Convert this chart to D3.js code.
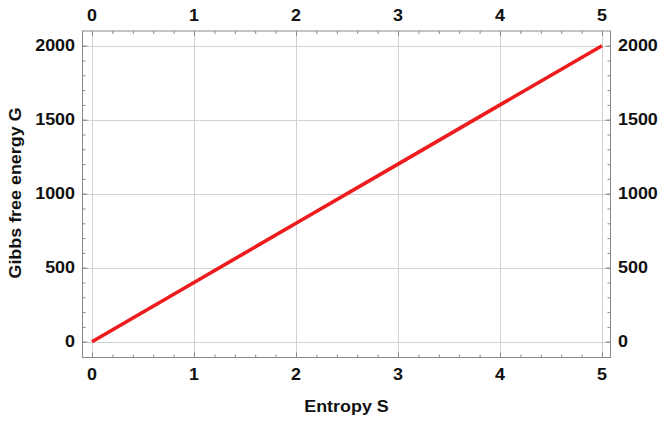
<!DOCTYPE html>
<html>
<head>
<meta charset="utf-8">
<script src="https://cdn.jsdelivr.net/npm/d3@7"></script>
<style>
  html, body { margin: 0; padding: 0; background: #fff; }
  svg { display: block; }
  text { font-family: "Liberation Sans", Arial, sans-serif; font-weight: bold; fill: #111; }
</style>
</head>
<body>
<div id="chart"></div>
<script>
// ---- data ----
const entropyS = [0, 1, 2, 3, 4, 5];
const gibbsG = [0, 400, 800, 1200, 1600, 2000];
const xTickValues = [0, 1, 2, 3, 4, 5];
const yTickValues = [0, 500, 1000, 1500, 2000];
const xLabel = "Entropy S";
const yLabel = "Gibbs free energy G";

const W = 658, H = 421;
const frame = { left: 82.5, right: 610.5, top: 31, bottom: 357.5 };

const x = d3.scaleLinear().domain([0, 5]).range([92, 602]);
const y = d3.scaleLinear().domain([0, 2000]).range([341.7, 45.7]);

const xMinor = d3.range(-1, 27).map(i => i * 0.2).filter(v => x(v) > frame.left + 1 && x(v) < frame.right - 1);
const yMinor = d3.range(-2, 23).map(i => i * 100).filter(v => y(v) > frame.top + 1 && y(v) < frame.bottom - 1);

const svg = d3.select("#chart").append("svg").attr("width", W).attr("height", H);

const FS = 16, SX = 1.12;
const frameColor = "#8a8a8a";

// gridlines
const grid = svg.append("g").attr("stroke", "#d2d2d2").attr("stroke-width", 1);
grid.selectAll("line.gx").data(xTickValues).join("line")
  .attr("x1", d => Math.round(x(d)) + 0.5).attr("x2", d => Math.round(x(d)) + 0.5)
  .attr("y1", frame.top).attr("y2", frame.bottom);
grid.selectAll("line.gy").data(yTickValues).join("line")
  .attr("y1", d => Math.round(y(d)) + 0.5).attr("y2", d => Math.round(y(d)) + 0.5)
  .attr("x1", frame.left).attr("x2", frame.right);

function styleAxis(g) {
  g.select(".domain").remove();
  g.selectAll("line").attr("stroke", frameColor).attr("stroke-width", 1);
  g.selectAll("text").remove();
}
// bottom
svg.append("g").attr("transform", `translate(0,${frame.bottom})`)
  .call(d3.axisTop(x).tickValues(xTickValues).tickSize(5)).call(styleAxis);
svg.append("g").attr("transform", `translate(0,${frame.bottom})`)
  .call(d3.axisTop(x).tickValues(xMinor).tickSize(3)).call(styleAxis);
// top
svg.append("g").attr("transform", `translate(0,${frame.top})`)
  .call(d3.axisBottom(x).tickValues(xTickValues).tickSize(5)).call(styleAxis);
svg.append("g").attr("transform", `translate(0,${frame.top})`)
  .call(d3.axisBottom(x).tickValues(xMinor).tickSize(3)).call(styleAxis);
// left
svg.append("g").attr("transform", `translate(${frame.left},0)`)
  .call(d3.axisRight(y).tickValues(yTickValues).tickSize(5)).call(styleAxis);
svg.append("g").attr("transform", `translate(${frame.left},0)`)
  .call(d3.axisRight(y).tickValues(yMinor).tickSize(3)).call(styleAxis);
// right
svg.append("g").attr("transform", `translate(${frame.right},0)`)
  .call(d3.axisLeft(y).tickValues(yTickValues).tickSize(5)).call(styleAxis);
svg.append("g").attr("transform", `translate(${frame.right},0)`)
  .call(d3.axisLeft(y).tickValues(yMinor).tickSize(3)).call(styleAxis);

// frame
svg.append("rect")
  .attr("x", frame.left).attr("y", frame.top)
  .attr("width", frame.right - frame.left).attr("height", frame.bottom - frame.top)
  .attr("fill", "none").attr("stroke", frameColor).attr("stroke-width", 1);

// data line
const data = entropyS.map((s, i) => ({ s, g: gibbsG[i] }));
svg.append("path").datum(data)
  .attr("fill", "none").attr("stroke", "#ee1c1c").attr("stroke-width", 3.6)
  .attr("stroke-linecap", "butt")
  .attr("d", d3.line().x(d => x(d.s)).y(d => y(d.g)));

function label(g, str, tx, ty, anchor, rot) {
  g.append("text")
    .attr("transform", `translate(${tx},${ty})` + (rot ? ` rotate(${rot})` : "") + ` scale(${SX},1)`)
    .attr("text-anchor", anchor)
    .attr("font-size", FS)
    .text(str);
}
const labels = svg.append("g");
xTickValues.forEach(v => {
  label(labels, String(v), x(v), 380, "middle");
  label(labels, String(v), x(v), 21, "middle");
});
yTickValues.forEach(v => {
  label(labels, String(v), 75, y(v) + 5.7, "end");
  label(labels, String(v), 618, y(v) + 5.7, "start");
});
label(labels, xLabel, (frame.left + frame.right) / 2, 412, "middle");
label(labels, yLabel, 20.5, 193, "middle", -90);
</script>
</body>
</html>
